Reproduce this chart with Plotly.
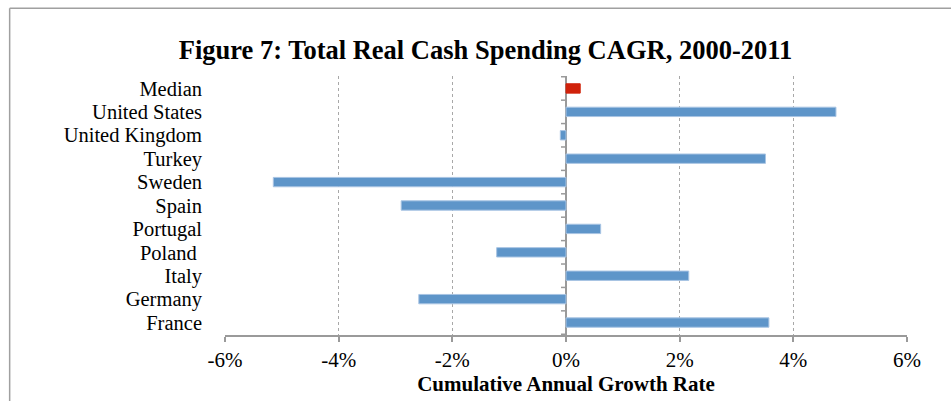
import plotly.graph_objects as go

# Data (bottom to top as plotted)
categories = ["France", "Germany", "Italy", "Poland\u00a0", "Portugal", "Spain",
              "Sweden", "Turkey", "United Kingdom", "United States", "Median"]
cagr_pct = [3.57, -2.59, 2.16, -1.22, 0.61, -2.90, -5.15, 3.51, -0.10, 4.75, 0.25]
x_ticks = [-6, -4, -2, 0, 2, 4, 6]
x_tick_labels = ["-6%", "-4%", "-2%", "0%", "2%", "4%", "6%"]

W, H = 951, 401
ML, MR, MT, MB = 224.5, 44, 76, 63
plot_w = W - ML - MR
plot_h = H - MT - MB

BLUE = "#5E95C9"
BLUE_EDGE = "#A8C4E3"
RED = "#D0220B"
GRAY = "#9A9A9A"
GRID = "#A8A8A8"
FONT = "Liberation Serif, Times New Roman, serif"

colors = [RED if c == "Median" else BLUE for c in categories]
edges = [RED if c == "Median" else BLUE_EDGE for c in categories]

fig = go.Figure(go.Bar(
    y=categories, x=cagr_pct, orientation="h",
    marker=dict(color=colors, line=dict(color=edges, width=1)),
    width=0.4, hoverinfo="x+y",
))

shapes = []
# tick marks on the zero line at category boundaries
tick_len = 5 * 12 / plot_w
for i in range(len(categories) + 1):
    shapes.append(dict(type="line", xref="x", yref="y",
                       x0=-tick_len, x1=0, y0=i - 0.5, y1=i - 0.5,
                       line=dict(color=GRAY, width=1.5)))
# outer frame (top and left edges)
def px_x(p):
    return (p - ML) / plot_w
def px_y(p):
    return (H - MB - p) / plot_h
shapes.append(dict(type="line", xref="paper", yref="paper",
                   x0=px_x(9), x1=px_x(W + 5), y0=px_y(7.5), y1=px_y(7.5),
                   line=dict(color="#A0A0A0", width=1.5)))
shapes.append(dict(type="line", xref="paper", yref="paper",
                   x0=px_x(9), x1=px_x(9), y0=px_y(7.5), y1=px_y(H + 5),
                   line=dict(color="#A0A0A0", width=1.5)))

fig.update_layout(
    width=W, height=H,
    margin=dict(l=ML, r=MR, t=MT, b=MB, pad=0),
    paper_bgcolor="white", plot_bgcolor="white",
    font=dict(family=FONT, color="black", size=20.5),
    title=dict(text="<b>Figure 7: Total Real Cash Spending CAGR, 2000-2011</b>",
               x=(485.5) / W, xanchor="center", y=1 - 50 / H, yanchor="middle",
               font=dict(size=26.5, family=FONT, color="black")),
    showlegend=False,
    shapes=shapes,
    bargap=0.6,
)
fig.update_xaxes(
    range=[-6, 6], tickvals=x_ticks, ticktext=x_tick_labels,
    showgrid=True, gridcolor=GRID, griddash="dot", gridwidth=1.2,
    zeroline=True, zerolinecolor=GRAY, zerolinewidth=1.5,
    showline=True, linecolor=GRAY, linewidth=1.5,
    ticks="outside", ticklen=5, tickcolor=GRAY, tickwidth=1.5,
    tickfont=dict(size=21, family=FONT),
    title=dict(text="<b>Cumulative Annual Growth Rate</b>",
               font=dict(size=21, family=FONT), standoff=2),
    fixedrange=True,
)
fig.update_yaxes(
    type="category", categoryorder="array", categoryarray=categories,
    tickmode="array", tickvals=categories, ticktext=categories,
    showgrid=False, showline=False, ticks="", ticklabelstandoff=22,
    tickfont=dict(size=20.5, family=FONT), fixedrange=True,
)

fig.write_html("out.html", config={"displayModeBar": False},
               post_script="document.body.style.margin='0px';")
